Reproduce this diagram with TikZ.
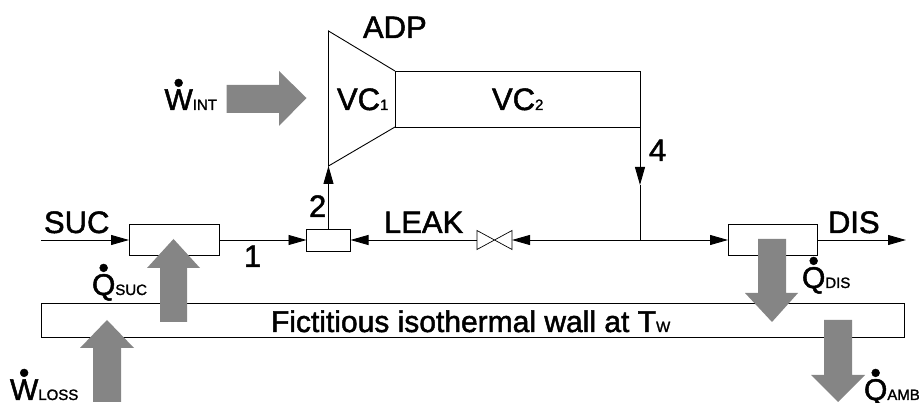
\documentclass[tikz,border=0pt]{standalone}
\usepackage{fontspec}
\setmainfont[RawFeature={embolden=1.6}]{Liberation Sans}
\usetikzlibrary{arrows.meta}
\definecolor{flowgray}{HTML}{858585}
\newcommand{\lsub}[1]{{\fontsize{15}{18}\selectfont #1}}
\newcommand{\dotover}[1]{\ooalign{\hfil\raisebox{17.5pt}{\fontsize{29}{29}\selectfont\textbullet}\hfil\cr #1\cr}}
\tikzset{
  x=1pt,y=-1pt,
  thinline/.style={draw=black,line width=0.9pt},
  pipe/.style={thinline,-{Triangle[length=18pt,width=10pt]}},
  box/.style={thinline,fill=white,inner sep=0pt,outer sep=0pt,rectangle},
  lab/.style={inner sep=0pt,outer sep=0pt,anchor=base west,font=\fontsize{31}{36}\selectfont},
  qlab/.style={inner sep=0pt,outer sep=0pt,anchor=base west,font=\fontsize{30}{36}\selectfont},
  flow/.style={fill=flowgray,draw=none},
}
\begin{document}
\begin{tikzpicture}
\useasboundingbox (0,0) rectangle (919,403);
% boxes
\node[box,minimum width=863pt,minimum height=34pt] (wall) at (472.5,320) {};
\node[box,minimum width=90pt,minimum height=31pt] (sucbox) at (174,240) {};
\node[box,minimum width=44pt,minimum height=22pt] (mix) at (328.5,240) {};
\node[box,minimum width=89pt,minimum height=31pt] (disbox) at (772.5,240) {};
\node[box,minimum width=245pt,minimum height=56pt] (vc2) at (517.5,99) {};
\node[inner sep=0pt,outer sep=0pt,minimum width=35pt,minimum height=19pt] (valve) at (494.5,240) {};
% compressor inlet
\coordinate (adptop) at (328.5,31);
\coordinate (adpbot) at (328.5,166);
\draw[thinline,line join=miter] (vc2.north west) -- (adptop) -- (adpbot) -- (vc2.south west);
% valve
\draw[draw=black,line width=.7pt,fill=white] (valve.north west) -- (valve.south east) -- (valve.north east) -- (valve.south west) -- cycle;
% connectors
\coordinate (sucin) at (41,240);
\coordinate (disout) at (906,240);
\coordinate (junction) at (640,240);
\coordinate (mid4) at (640,185);
\draw[pipe] (sucin) -- (sucbox.west);
\draw[pipe] (sucbox.east) -- (mix.west);
\draw[pipe] (mix.north) -- (adpbot);
\draw[pipe] (valve.west) -- (mix.east);
\draw[pipe] (junction) -- (valve.east);
\draw[pipe] (junction) -- (disbox.west);
\draw[pipe] (disbox.east) -- (disout);
\draw[pipe] (vc2.south east) -- (mid4);
\draw[thinline] (mid4) -- (junction);
% heat and work flows
\fill[flow] (160,322) -- (160,268) -- (147,268) -- (173.5,239) -- (200,268) -- (187,268) -- (187,322) -- cycle;
\fill[flow] (93,402) -- (93,348) -- (80,348) -- (107,320) -- (134,348) -- (121,348) -- (121,402) -- cycle;
\fill[flow] (758,239) -- (758,293) -- (745,293) -- (772,322) -- (798,293) -- (786,293) -- (786,239) -- cycle;
\fill[flow] (824,320) -- (824,375) -- (811,375) -- (838,402) -- (865,375) -- (852,375) -- (852,320) -- cycle;
\fill[flow] (226.5,85) -- (279,85) -- (279,71) -- (306.5,98) -- (279,126) -- (279,113) -- (226.5,113) -- cycle;
% labels
\node[lab] (tsuc) at (44,233) {SUC};
\node[lab] (tleak) at (384,233) {LEAK};
\node[lab] (tdis) at (828,233) {DIS};
\node[lab] (tone) at (244,267) {1};
\node[lab] (ttwo) at (309,217) {2};
\node[lab] (tfour) at (649,161) {4};
\node[lab] (tadp) at (363,38) {ADP};
\node[lab] (tvc1) at (337,110) {VC\lsub{1}};
\node[lab] (tvc2) at (492,110) {VC\lsub{2}};
\node[qlab] (twint) at (164.5,110) {\dotover{W}\lsub{INT}};
\node[qlab] (tqsuc) at (92,295) {\dotover{Q}\lsub{SUC}};
\node[qlab] (twloss) at (10,400) {\dotover{W}\lsub{LOSS}};
\node[qlab] (tqdis) at (802,288) {\dotover{Q}\lsub{DIS}};
\node[qlab] (tqamb) at (864,400) {\dotover{Q}\lsub{AMB}};
\node[qlab] (twalltext) at (271,332) {Fictitious isothermal wall at T\lsub{W}};
\end{tikzpicture}
\end{document}
